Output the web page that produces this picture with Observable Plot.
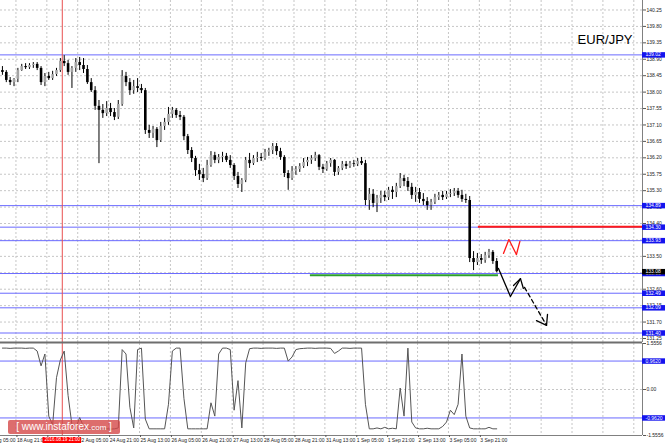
<!DOCTYPE html>
<html><head><meta charset="utf-8">
<script src="https://cdn.jsdelivr.net/npm/d3@7"></script>
<script src="https://cdn.jsdelivr.net/npm/@observablehq/plot@0.6"></script>
<style>
html,body{margin:0;padding:0;background:#fff;}
#wrap{position:relative;width:665px;height:444px;overflow:hidden;}
#wrap svg{display:block;}
.wm{position:absolute;left:8px;top:420px;width:112px;height:14px;background:rgba(212,72,72,0.8);border-radius:2px;color:#fff;font:10px "Liberation Sans",Arial,sans-serif;line-height:14px;text-align:center;white-space:nowrap;}
.wm small{font-size:8px;}
</style></head><body><div id="wrap"></div>
<script>
// ---- data (2-hour candles, hour index from chart start) ----
const open = [138.59,138.54,138.32,138.26,138.35,138.59,138.70,138.67,138.73,138.76,
138.65,138.26,138.43,138.37,138.48,138.59,138.84,138.78,138.54,138.65,
138.81,138.73,138.62,138.26,138.04,137.61,137.50,137.41,137.55,137.44,
137.31,137.66,138.43,138.26,138.04,138.15,138.10,138.04,136.95,136.87,
136.98,136.67,137.06,137.17,137.39,137.50,137.36,137.31,136.78,136.40,
136.18,135.85,135.74,135.63,135.99,136.26,136.13,136.21,136.24,136.13,
135.99,135.69,135.47,135.58,136.13,136.04,136.18,136.21,136.18,136.35,
136.40,136.51,136.37,136.21,135.77,135.63,135.83,135.88,135.96,136.07,
136.13,136.18,136.26,135.94,135.88,136.04,136.13,135.80,135.91,136.02,
135.96,136.04,136.02,136.10,136.04,135.03,135.20,134.95,135.09,135.17,
135.11,135.31,135.25,135.41,135.63,135.55,135.39,135.17,135.25,135.06,
135.00,134.89,134.98,135.11,135.17,135.11,135.20,135.22,135.28,135.17,
135.06,135.03,133.44,133.33,133.44,133.39,133.52,133.61,133.36];
const high = [138.70,138.59,138.40,138.37,138.65,138.76,138.78,138.78,138.81,138.81,
138.70,138.51,138.54,138.57,138.65,138.92,139.00,138.87,138.70,138.92,
138.95,138.92,138.73,138.37,138.15,137.77,137.66,137.74,137.69,137.55,
137.77,138.59,138.54,138.37,138.32,138.37,138.21,138.10,137.09,137.06,
137.03,137.17,137.28,137.58,137.58,137.55,137.47,137.36,136.84,136.48,
136.24,136.02,135.91,136.13,136.37,136.35,136.29,136.35,136.32,136.26,
136.04,135.80,135.63,136.21,136.32,136.26,136.35,136.32,136.43,136.46,
136.59,136.59,136.46,136.26,135.85,135.96,135.96,136.04,136.18,136.21,
136.26,136.35,136.29,136.02,136.10,136.18,136.15,135.96,136.10,136.10,
136.10,136.13,136.18,136.21,136.13,135.36,135.33,135.17,135.28,135.28,
135.39,135.41,135.50,135.77,135.72,135.66,135.50,135.39,135.36,135.22,
135.11,135.06,135.20,135.25,135.28,135.28,135.33,135.36,135.36,135.31,
135.20,135.14,133.63,133.58,133.55,133.61,133.69,133.66,133.44];
const low = [138.46,138.26,138.18,138.15,138.26,138.57,138.62,138.62,138.65,138.59,
138.18,138.15,138.32,138.32,138.43,138.54,138.70,138.46,138.10,138.54,
138.59,138.51,138.21,137.99,137.50,136.04,137.28,137.33,137.33,137.22,
137.25,137.61,138.15,137.91,137.94,137.99,137.96,136.84,136.73,136.73,
136.48,136.62,136.95,137.09,137.28,137.28,137.22,136.67,136.29,136.07,
135.69,135.58,135.52,135.58,135.94,136.04,136.04,136.07,136.07,135.91,
135.58,135.36,135.25,135.52,135.91,135.99,136.07,136.10,136.13,136.24,
136.29,136.26,136.13,135.66,135.31,135.58,135.72,135.80,135.91,135.96,
136.02,136.10,135.85,135.77,135.83,135.94,135.69,135.72,135.85,135.88,
135.91,135.94,135.96,135.99,134.89,134.76,134.84,134.70,134.95,135.00,
135.03,135.06,135.11,135.36,135.41,135.28,135.06,134.98,134.95,134.89,
134.76,134.76,134.92,135.03,135.03,135.06,135.11,135.14,135.09,134.98,
134.95,133.33,133.11,133.25,133.28,133.31,133.44,133.28,133.05];
const close = [138.54,138.32,138.26,138.35,138.59,138.70,138.67,138.73,138.76,138.65,
138.26,138.43,138.37,138.48,138.59,138.84,138.78,138.54,138.65,138.81,
138.73,138.62,138.26,138.04,137.61,137.50,137.41,137.55,137.44,137.31,
137.66,138.43,138.26,138.04,138.15,138.10,138.04,136.95,136.87,136.98,
136.67,137.06,137.17,137.39,137.50,137.36,137.31,136.78,136.40,136.18,
135.85,135.74,135.63,135.99,136.26,136.13,136.21,136.24,136.13,135.99,
135.69,135.47,135.58,136.13,136.04,136.18,136.21,136.18,136.35,136.40,
136.51,136.37,136.21,135.77,135.63,135.83,135.88,135.96,136.07,136.13,
136.18,136.26,135.94,135.88,136.04,136.13,135.80,135.91,136.02,135.96,
136.04,136.02,136.10,136.04,135.03,135.20,134.95,135.09,135.17,135.11,
135.31,135.25,135.41,135.63,135.55,135.39,135.17,135.25,135.06,135.00,
134.89,134.98,135.11,135.17,135.11,135.20,135.22,135.28,135.17,135.06,
135.03,133.44,133.33,133.44,133.39,133.52,133.61,133.36,133.08];
const oscillator = [1.40,1.40,1.39,1.40,1.40,1.40,1.39,1.40,1.40,
1.30,0.80,1.20,-0.90,-1.20,0.40,1.00,1.30,-0.20,-1.20,-1.30,-0.95,-1.25,
-1.33,-1.33,-1.34,-1.33,-1.33,-1.33,-1.34,-1.33,-1.30,
1.35,1.20,-0.60,-1.30,1.35,1.40,-1.00,
-1.33,-1.33,-1.33,-1.33,-1.33,
-0.50,1.30,1.40,1.40,-0.30,
-1.33,-1.33,-1.33,-1.33,-1.33,-1.33,
-0.45,-0.90,1.20,1.40,1.40,1.35,-0.70,0.30,-1.30,0.90,1.38,
1.40,1.40,1.39,1.40,1.40,1.40,1.39,1.40,1.40,
0.96,1.10,1.35,
1.38,1.39,1.40,1.40,1.39,1.40,1.40,1.40,1.39,
1.22,1.30,
1.40,1.40,1.39,1.40,1.40,1.40,
-0.50,-1.33,
-1.33,-1.30,-1.33,-1.28,-1.33,-1.31,-1.33,
0.05,-0.90,1.40,-1.10,-1.30,
-1.33,-1.33,-1.31,-1.33,-1.33,-1.33,
-1.25,-1.10,-0.70,-0.85,-0.50,1.20,-0.90,-1.30,
-1.33,-1.33,-1.33,-1.33,-1.28,-1.33,-1.33];

const priceTicks = [140.25,139.80,139.35,138.90,138.45,138.00,137.55,137.10,136.65,136.20,135.75,135.30,134.85,134.40,133.95,133.50,133.05,132.60,132.15,131.70,131.25];
const blueLevels = [139.02,134.89,134.30,133.93,133.03,132.49,132.09,131.40];
const redLevel = 134.31, redStartHour = 247.5;
const greenLevel = 132.98, greenStartHour = 160.5, greenEndHour = 257.9;
const oscTicks = [1.5556, 0, -1.5556];
const oscTickLabels = ["1.5556", "0.00", "-1.5556"];
const oscLevels = [0.9620, -0.9620];
const timeTickHours = [-8,8,24,40,56,72,88,104,120,136,152,168,184,200,216,232,248];
const timeTickLabels = ["18 Aug 05:00","18 Aug 21:00","19 Aug 13:00","22 Aug 05:00","24 Aug 21:00","25 Aug 13:00","26 Aug 05:00","26 Aug 21:00","27 Aug 13:00","28 Aug 05:00","28 Aug 21:00","31 Aug 13:00","1 Sep 05:00","1 Sep 21:00","2 Sep 13:00","3 Sep 05:00","3 Sep 21:00"];
const gridHours = [8,24,40,56,72,88,104,120,136,152,168,184,200,216,232,248,264,280,296,312,328];
const crossHour = 32, crossLabel = "2016.08.19 21:00";
const symbol = "EUR/JPY";
// hand-drawn forecast arrows (hour, price)
const solidArrow = [[257.9,133.17],[264.1,132.40],[269.3,132.89]];
const solidHead = [[265.7,132.70],[269.3,132.89],[270.8,132.62]];
const dashedArrow = [[271.4,132.65],[282.8,131.61]];
const dashedHead = [[277.6,131.74],[282.8,131.61],[283.3,131.91]];
const redZig = [[260.5,133.58],[263.3,133.96],[267.2,133.55]];
const redHead = [[269.0,133.91],[267.2,133.55]];

// ---- chart ----
const FONT = "'Liberation Sans', Arial, sans-serif";
const XD = [0, 332.5], XR = 345;
const BLUE = "#6a6aff", BOX = "#1414ee", GRID = "#c6c6c6", BORDER = "#808080";
const bars = open.map((o, i) => ({h: 2 * i + 1, open: o, high: high[i], low: low[i], close: close[i]}));
const last = close[close.length - 1];
const labelMap = new Map(timeTickHours.map((h, i) => [h, timeTickLabels[i]]));
const oscMap = new Map(oscTicks.map((v, i) => [v, oscTickLabels[i]]));
const P = d => d[0], V = d => d[1];

const main = Plot.plot({
  width: 665, height: 342, marginLeft: 0, marginRight: 23, marginTop: 0, marginBottom: 0,
  style: {fontFamily: FONT, background: "white", overflow: "visible"},
  x: {domain: XD, axis: null},
  y: {domain: [131.14, 140.51]},
  marks: [
    Plot.ruleY(priceTicks, {stroke: GRID, strokeDasharray: "2,2"}),
    Plot.ruleX(gridHours, {stroke: GRID, strokeDasharray: "2,2"}),
    Plot.ruleY(blueLevels, {x1: XD[0], x2: XD[1], stroke: BLUE}),
    Plot.ruleY([redLevel], {x1: redStartHour, x2: XD[1], stroke: "#ff1a1a", strokeWidth: 2}),
    Plot.ruleY([greenLevel], {x1: greenStartHour, x2: greenEndHour, stroke: "#2ca02c", strokeWidth: 2}),
    Plot.ruleX([crossHour], {stroke: "#e85050"}),
    Plot.ruleX(bars, {x: "h", y1: "low", y2: "high", stroke: "#000", strokeWidth: 1}),
    Plot.ruleX(bars, {x: "h", y1: "open", y2: "close", stroke: d => d.close >= d.open ? "#a4a4a4" : "#000000", strokeWidth: 2.6}),
    Plot.line(solidArrow, {x: P, y: V, stroke: "#000", strokeWidth: 1.3}),
    Plot.line(solidHead, {x: P, y: V, stroke: "#000", strokeWidth: 1.3}),
    Plot.line(dashedArrow, {x: P, y: V, stroke: "#000", strokeWidth: 1.3, strokeDasharray: "4,3"}),
    Plot.line(dashedHead, {x: P, y: V, stroke: "#000", strokeWidth: 1.3}),
    Plot.line(redZig, {x: P, y: V, stroke: "#ff1a1a", strokeWidth: 1.3}),
    Plot.line(redHead, {x: P, y: V, stroke: "#ff1a1a", strokeWidth: 1.3}),
    Plot.ruleX([XD[1]], {stroke: BORDER}),
    Plot.axisY(priceTicks, {anchor: "right", tickSize: 3, tickPadding: 1, tickFormat: d => d.toFixed(2), fontSize: 5, fill: "#222", stroke: "#555"}),
    Plot.ruleY(blueLevels, {x1: XD[1], x2: XR, stroke: BOX, strokeWidth: 5.5}),
    Plot.text(blueLevels, {x: XD[1], y: d => d, text: d => d.toFixed(2), dx: 3, textAnchor: "start", fill: "white", fontSize: 5}),
    Plot.ruleY([last], {x1: XD[1], x2: XR, stroke: "#000", strokeWidth: 5.5}),
    Plot.text([last], {x: XD[1], y: d => d, text: d => d.toFixed(2), dx: 3, textAnchor: "start", fill: "white", fontSize: 5}),
    Plot.text([symbol], {frameAnchor: "top-right", text: d => d, textAnchor: "end", lineAnchor: "top", dx: -10, dy: 34, fontSize: 13, fill: "#000"})
  ]
});

const lower = Plot.plot({
  width: 665, height: 102, marginLeft: 0, marginRight: 23, marginTop: 1, marginBottom: 9,
  style: {fontFamily: FONT, background: "white", overflow: "visible"},
  x: {domain: XD},
  y: {domain: [-1.5556, 1.5556]},
  marks: [
    Plot.ruleY([0], {stroke: GRID, strokeDasharray: "2,2"}),
    Plot.ruleX(gridHours, {stroke: GRID, strokeDasharray: "2,2"}),
    Plot.ruleY(oscLevels, {x1: XD[0], x2: XD[1], stroke: BLUE}),
    Plot.ruleX([crossHour], {stroke: "#e85050"}),
    Plot.line(oscillator, {x: (d, i) => 2 * i + 1, y: d => d, stroke: "#555", strokeWidth: 1}),
    Plot.ruleY([1.5556], {x1: XD[0], x2: XD[1], dy: -1, stroke: "#6e6e6e", strokeWidth: 2}),
    Plot.ruleY([-1.5556], {x1: XD[0], x2: XD[1], stroke: BORDER}),
    Plot.ruleX([XD[1]], {stroke: BORDER}),
    Plot.axisX(timeTickHours, {anchor: "bottom", tickSize: 2, tickPadding: 1, tickFormat: h => labelMap.get(h), fontSize: 5, textAnchor: "start", dx: 1, fill: "#222", stroke: "#555"}),
    Plot.axisY(oscTicks, {anchor: "right", tickSize: 3, tickPadding: 1, tickFormat: v => oscMap.get(v), fontSize: 5, fill: "#222", stroke: "#555"}),
    Plot.ruleY(oscLevels, {x1: XD[1], x2: XR, stroke: BOX, strokeWidth: 5.5}),
    Plot.text(oscLevels, {x: XD[1], y: d => d, text: d => d.toFixed(4), dx: 3, textAnchor: "start", fill: "white", fontSize: 5}),
    Plot.ruleY([-1.5556], {x1: crossHour - 10, x2: crossHour + 10, dy: 4.5, stroke: "#ff0000", strokeWidth: 6}),
    Plot.text([crossLabel], {x: crossHour, y: -1.5556, dy: 4.5, text: d => d, fill: "white", fontSize: 4.6})
  ]
});

const wrap = document.getElementById("wrap");
wrap.appendChild(main);
wrap.appendChild(lower);
const wm = document.createElement("div");
wm.className = "wm";
wm.innerHTML = "[ www.instaforex<small>.com</small> ]";
wrap.appendChild(wm);
</script></body></html>
